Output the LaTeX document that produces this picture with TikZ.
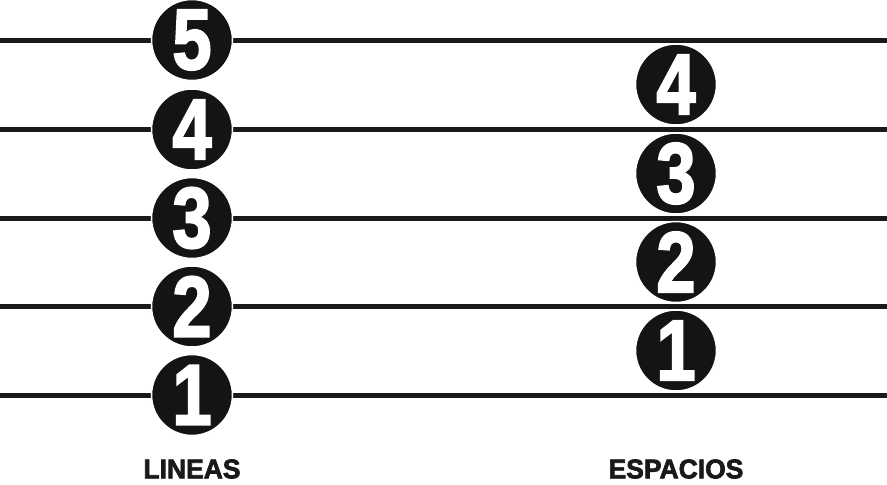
\documentclass[tikz,border=0pt]{standalone}
\usepackage{fontspec}
\setmainfont{Liberation Sans}
\newfontfamily\heavyfont{Liberation Sans}[BoldFont={Liberation Sans Bold}, BoldFeatures={FakeBold=2.5}]
\usetikzlibrary{positioning}
\tikzset{
    staffline/.style={line width=5pt, draw=black!90},
    numdot/.style={circle, fill=black!92, draw=white, line width=1.5pt,
                   minimum size=81pt, inner sep=0pt, text=white,
                   font=\heavyfont\fontsize{86}{86}\selectfont\bfseries},
    caption/.style={font=\heavyfont\fontsize{27}{27}\selectfont\bfseries, text=black!90,
                    inner sep=0pt},
}
\begin{document}
\begin{tikzpicture}[x=1pt, y=-1pt]
    \useasboundingbox (0,0) rectangle (887,485);
    % lineas del pentagrama
    \foreach \i/\y in {1/395, 2/306.5, 3/218, 4/129.5, 5/40} {
        \coordinate (w\i) at (0,\y);
        \coordinate (e\i) at (887,\y);
        \draw[staffline] (w\i) -- (e\i);
    }
    % numeros sobre las lineas
    \foreach \i in {1,...,5} {
        \node[numdot] (lin\i) at (w\i -| 192,0) {\scalebox{0.82}[1]{\i}};
    }
    % numeros en los espacios
    \foreach \i/\y in {1/350.5, 2/262, 3/173.5, 4/84.5} {
        \node[numdot] (esp\i) at (676,\y) {\scalebox{0.82}[1]{\i}};
    }
    \node[caption] (lineas) at (192,469) {\scalebox{0.98}[1]{LINEAS}};
    \node[caption] (espacios) at (676,469) {\scalebox{0.98}[1]{ESPACIOS}};
\end{tikzpicture}
\end{document}
